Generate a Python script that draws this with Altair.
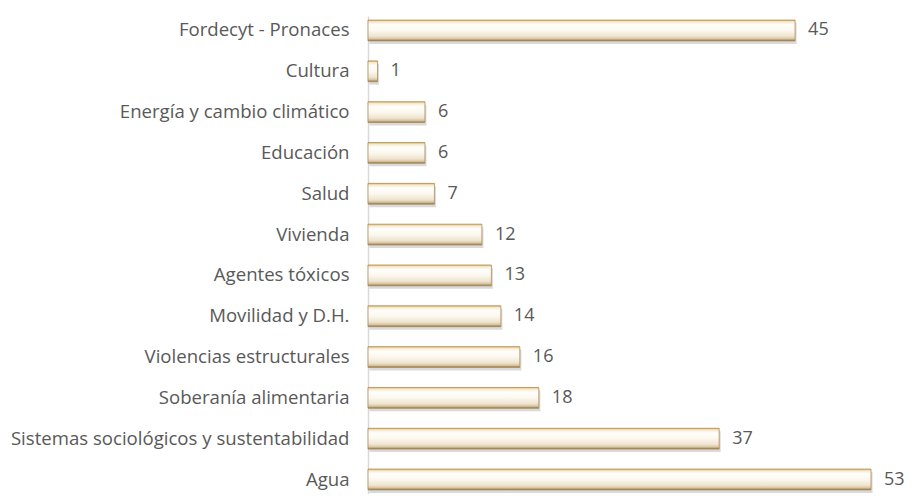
import altair as alt
import pandas as pd

categories = ["Fordecyt - Pronaces", "Cultura", "Energía y cambio climático", "Educación",
              "Salud", "Vivienda", "Agentes tóxicos", "Movilidad y D.H.",
              "Violencias estructurales", "Soberanía alimentaria",
              "Sistemas sociológicos y sustentabilidad", "Agua"]
values = [45, 1, 6, 6, 7, 12, 13, 14, 16, 18, 37, 53]

df = pd.DataFrame({"cat": categories, "val": values})

FONT = "Open Sans"
TXT = "#595959"
FS = 18.6

yscale = alt.Scale(paddingInner=0.49, paddingOuter=0.1)
y_enc = alt.Y("cat:N", sort=categories, title=None, scale=yscale)
x_enc = alt.X("val:Q", scale=alt.Scale(domain=[0, 55]), axis=None)

base = alt.Chart(df)

shadow = base.mark_bar(color="#6b6b6b", opacity=0.25, yOffset=3, xOffset=1.5).encode(
    x=x_enc, y=alt.Y("cat:N", sort=categories, title=None, scale=yscale,
                     axis=alt.Axis(labelFont=FONT, labelFontSize=FS, labelColor=TXT,
                                   labelPadding=19, ticks=False, domainColor="#d9d9d9",
                                   domainWidth=1.5, labelLimit=400, grid=False))
)

grad = alt.Gradient(
    gradient="linear", x1=0, y1=0, x2=0, y2=1,
    stops=[
        alt.GradientStop(offset=0.0, color="#dcb566"),
        alt.GradientStop(offset=0.08, color="#f6e9cc"),
        alt.GradientStop(offset=0.22, color="#fffefa"),
        alt.GradientStop(offset=0.5, color="#fcf8ef"),
        alt.GradientStop(offset=0.78, color="#eee4d0"),
        alt.GradientStop(offset=0.9, color="#d8c6a2"),
        alt.GradientStop(offset=1.0, color="#8c6e40"),
    ],
)

bars = base.mark_bar(color=grad, stroke="#ad8e58", strokeWidth=0.8).encode(
    x=x_enc, y=y_enc
)

labels = base.mark_text(align="left", baseline="middle", dx=13, font=FONT,
                        fontSize=18, color=TXT).encode(
    x=x_enc, y=y_enc, text="val:Q"
)

chart = alt.layer(shadow, bars, labels).properties(
    width=522, height=478,
    view=alt.ViewBackground(stroke="transparent", strokeWidth=0),
    autosize=alt.AutoSizeParams(type="none"),
    padding={"left": 360, "top": 8, "right": 15, "bottom": 0},
).configure_view(strokeWidth=0, stroke="transparent").configure(background="white")

chart.save("out.html", embed_options={"renderer": "svg", "actions": False})
